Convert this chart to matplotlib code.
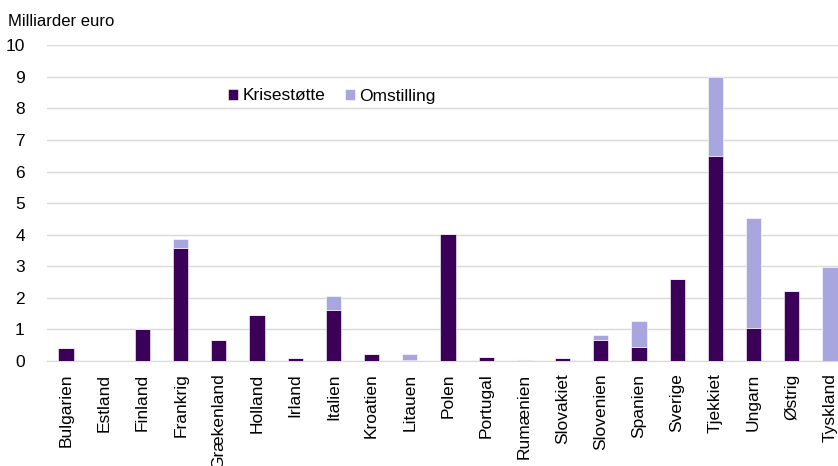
import numpy as np
import matplotlib
matplotlib.use('Agg')
import matplotlib.pyplot as plt

lande = ['Bulgarien', 'Estland', 'Finland', 'Frankrig', 'Grækenland', 'Holland',
         'Irland', 'Italien', 'Kroatien', 'Litauen', 'Polen', 'Portugal',
         'Rumænien', 'Slovakiet', 'Slovenien', 'Spanien', 'Sverige', 'Tjekkiet',
         'Ungarn', 'Østrig', 'Tyskland']
krisestotte = [0.40, 0.01, 1.00, 3.57, 0.65, 1.46, 0.10, 1.60, 0.22, 0.04, 4.01,
               0.13, 0.01, 0.08, 0.65, 0.44, 2.59, 6.50, 1.05, 2.21, 0.00]
omstilling = [0.00, 0.00, 0.00, 0.29, 0.00, 0.00, 0.00, 0.47, 0.00, 0.18, 0.00,
              0.00, 0.02, 0.00, 0.16, 0.84, 0.00, 2.50, 3.48, 0.00, 2.98]

plt.rcParams['font.family'] = ['Liberation Sans', 'DejaVu Sans']
plt.rcParams['font.size'] = 12

fig = plt.figure(figsize=(8.38, 4.66), dpi=100)
ax = fig.add_axes([47/838, 1-361/466, 802/838, (361-45.3)/466])

x = np.arange(len(lande))
ax.bar(x, krisestotte, width=0.4, color='#3b0058', edgecolor='white',
       linewidth=0.4, label='Krisestøtte', zorder=3)
ax.bar(x, omstilling, width=0.4, bottom=krisestotte, color='#a9a5de',
       edgecolor='white', linewidth=0.4, label='Omstilling', zorder=3)

ax.set_xlim(-0.5, len(lande) - 0.5)
ax.set_ylim(0, 10)
ax.set_yticks(range(0, 11))
ax.yaxis.grid(True, color='#d9d9d9', linewidth=1)
ax.set_axisbelow(True)
for s in ['top', 'right', 'left']:
    ax.spines[s].set_visible(False)
ax.spines['bottom'].set_color('#d9d9d9')
ax.tick_params(axis='both', length=0, labelsize=12.5)
ax.tick_params(axis='y', pad=16)
ax.tick_params(axis='x', pad=9)
ax.set_xticks(x)
ax.set_xticklabels(lande, rotation=90, va='top')

fig.text(8/838, 1-22/466, 'Milliarder euro', fontsize=12, va='center', ha='left')

ax.legend(loc='center left', bbox_to_anchor=((228-47)/802, (361-96)/(361-45.3)),
          ncol=2, frameon=False, fontsize=12.5, handlelength=0.6,
          handleheight=0.6, handletextpad=0.25, columnspacing=1.1,
          borderaxespad=0, borderpad=0)

fig.savefig('out.png', dpi=100)
